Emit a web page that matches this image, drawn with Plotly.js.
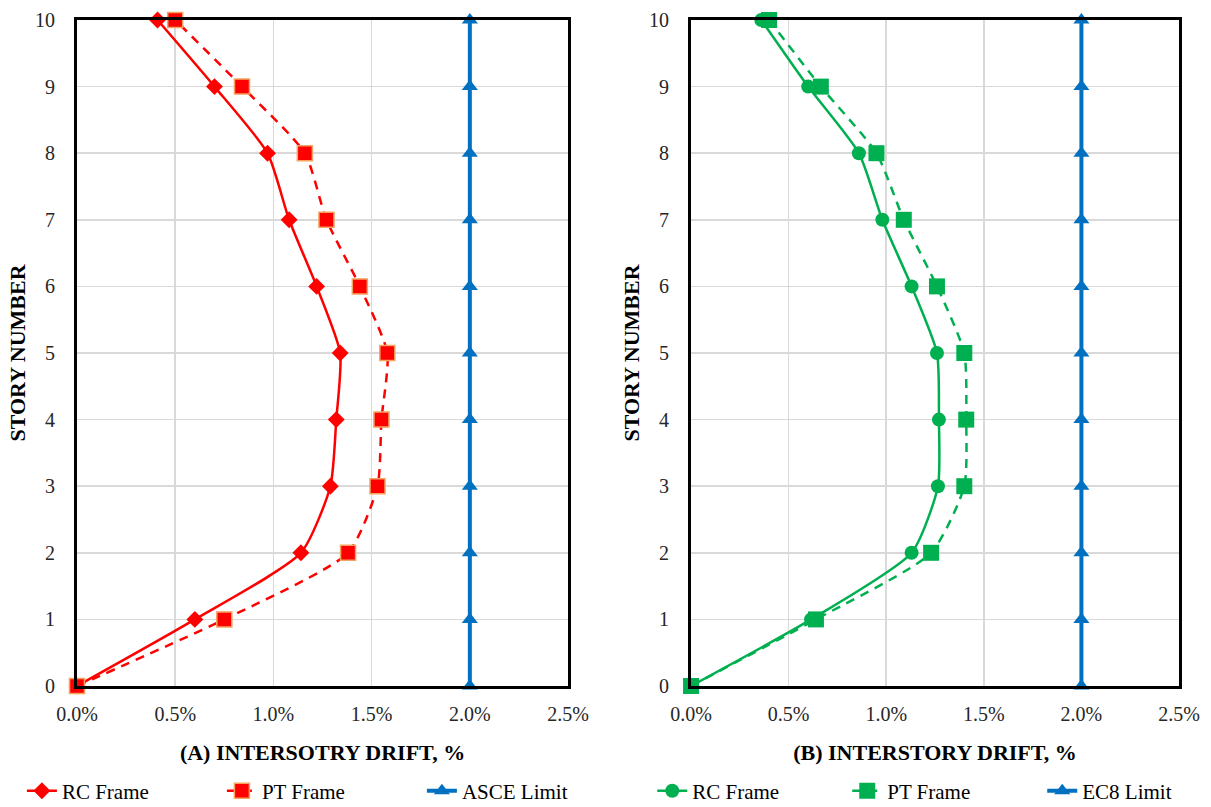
<!DOCTYPE html>
<html>
<head>
<meta charset="utf-8">
<script src="https://cdn.plot.ly/plotly-3.0.1.min.js"></script>
<style>html,body{margin:0;padding:0;background:#fff;}#chart{width:1211px;height:807px;}</style>
</head>
<body>
<div id="chart"></div>
<script>
// Story levels
const stories = [0, 1, 2, 3, 4, 5, 6, 7, 8, 9, 10];
// (A) Intersotry drift, %
const rcFrameA = [0, 0.60, 1.14, 1.29, 1.32, 1.34, 1.22, 1.08, 0.97, 0.70, 0.41];
const ptFrameA = [0, 0.75, 1.38, 1.53, 1.55, 1.58, 1.44, 1.27, 1.16, 0.84, 0.50];
const asceLimit = [2, 2, 2, 2, 2, 2, 2, 2, 2, 2, 2];
// (B) Interstory drift, %
const rcFrameB = [0, 0.615, 1.13, 1.265, 1.27, 1.26, 1.13, 0.98, 0.86, 0.60, 0.36];
const ptFrameB = [0, 0.64, 1.23, 1.40, 1.41, 1.40, 1.26, 1.09, 0.95, 0.665, 0.40];
const ec8Limit = [2, 2, 2, 2, 2, 2, 2, 2, 2, 2, 2];
const xTickVals = [0, 0.5, 1.0, 1.5, 2.0, 2.5];
const xTickText = ['0.0%', '0.5%', '1.0%', '1.5%', '2.0%', '2.5%'];
const yTickVals = [0, 1, 2, 3, 4, 5, 6, 7, 8, 9, 10];

const RED = '#FF0000', GREEN = '#00B050', BLUE = '#0070C0', ORANGE = '#F4A460';
const serif = 'Liberation Serif';
const DASH = '9px,7px';

const traces = [
  {x: rcFrameA, y: stories, name: 'RC Frame', xaxis: 'x', yaxis: 'y', legend: 'legend',
   mode: 'lines+markers', line: {color: RED, width: 2.5, shape: 'spline', smoothing: 0.6},
   marker: {symbol: 'diamond', size: 13, color: RED}, cliponaxis: false},
  {x: ptFrameA, y: stories, name: 'PT Frame', xaxis: 'x', yaxis: 'y', legend: 'legend',
   mode: 'lines+markers', line: {color: RED, width: 2.5, dash: DASH, shape: 'spline', smoothing: 0.6},
   marker: {symbol: 'square', size: 15, color: RED, line: {color: ORANGE, width: 1.5}}, cliponaxis: false},
  {x: asceLimit, y: stories, name: 'ASCE Limit', xaxis: 'x', yaxis: 'y', legend: 'legend',
   mode: 'lines+markers', line: {color: BLUE, width: 4},
   marker: {symbol: 'triangle-up', size: 14, color: BLUE}, cliponaxis: false},
  {x: rcFrameB, y: stories, name: 'RC Frame', xaxis: 'x2', yaxis: 'y2', legend: 'legend2',
   mode: 'lines+markers', line: {color: GREEN, width: 2.5, shape: 'spline', smoothing: 0.6},
   marker: {symbol: 'circle', size: 14, color: GREEN}, cliponaxis: false},
  {x: ptFrameB, y: stories, name: 'PT Frame', xaxis: 'x2', yaxis: 'y2', legend: 'legend2',
   mode: 'lines+markers', line: {color: GREEN, width: 2.5, dash: DASH, shape: 'spline', smoothing: 0.6},
   marker: {symbol: 'square', size: 16, color: GREEN}, cliponaxis: false},
  {x: ec8Limit, y: stories, name: 'EC8 Limit', xaxis: 'x2', yaxis: 'y2', legend: 'legend2',
   mode: 'lines+markers', line: {color: BLUE, width: 4},
   marker: {symbol: 'triangle-up', size: 14, color: BLUE}, cliponaxis: false}
];

function xAxis(domain, title, anchor) {
  return {
    anchor: anchor, domain: domain, range: [0, 2.5], tickmode: 'array',
    tickvals: xTickVals, ticktext: xTickText,
    showgrid: true, gridcolor: '#D9D9D9', gridwidth: 1.5, zeroline: false,
    showline: true, mirror: true, linecolor: '#000', linewidth: 3, ticks: '',
    ticklabelstandoff: 8,
    tickfont: {family: serif, size: 20, color: '#262626'},
    title: {text: title, font: {family: serif, size: 22, color: '#000', weight: 'bold'}, standoff: 21}
  };
}
function yAxis(anchor) {
  return {
    anchor: anchor, domain: [0, 1], range: [0, 10], tickvals: yTickVals,
    showgrid: true, gridcolor: '#D9D9D9', gridwidth: 1.5, zeroline: false,
    showline: true, mirror: true, linecolor: '#000', linewidth: 3, ticks: '',
    ticklabelstandoff: 15,
    tickfont: {family: serif, size: 20, color: '#262626'},
    title: {text: 'STORY NUMBER', font: {family: serif, size: 22, color: '#000', weight: 'bold'}, standoff: 4}
  };
}

const layout = {
  width: 1211, height: 807,
  margin: {l: 77, r: 32, t: 20, b: 121, autoexpand: false},
  paper_bgcolor: '#fff', plot_bgcolor: '#fff',
  font: {family: serif, color: '#000'},
  xaxis: xAxis([0, 0.4456], '(A) INTERSOTRY DRIFT, %', 'y'),
  yaxis: yAxis('x'),
  xaxis2: xAxis([0.5572, 1], '(B) INTERSTORY DRIFT, %', 'y2'),
  yaxis2: yAxis('x2'),
  legend: {orientation: 'h', x: -0.05, xanchor: 'left', y: -0.127, yanchor: 'top',
           entrywidth: 155, entrywidthmode: 'pixels',
           font: {family: serif, size: 21, color: '#000'}, bgcolor: 'rgba(0,0,0,0)'},
  legend2: {orientation: 'h', x: 0.522, xanchor: 'left', y: -0.127, yanchor: 'top',
           entrywidth: 150, entrywidthmode: 'pixels',
           font: {family: serif, size: 21, color: '#000'}, bgcolor: 'rgba(0,0,0,0)'},
  showlegend: true
};

Plotly.newPlot('chart', traces, layout, {displayModeBar: false, staticPlot: true});
</script>
</body>
</html>
